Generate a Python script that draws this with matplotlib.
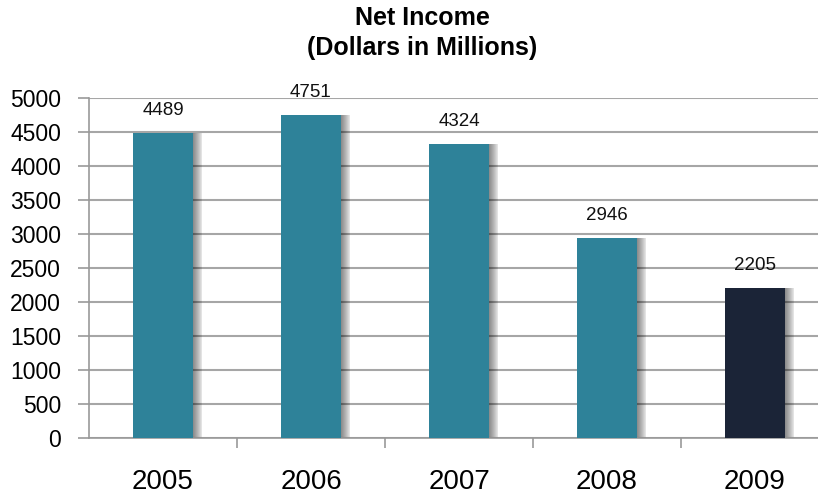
import numpy as np
import matplotlib.pyplot as plt
from matplotlib.ticker import FixedLocator, NullFormatter

years = ['2005', '2006', '2007', '2008', '2009']
net_income = [4489, 4751, 4324, 2946, 2205]
bar_colors = ['#2E8299', '#2E8299', '#2E8299', '#2E8299', '#1B2437']

plt.rcParams['font.family'] = ['Liberation Sans', 'DejaVu Sans']

fig = plt.figure(figsize=(8.18, 4.95), dpi=100)
ax = fig.add_axes([89 / 818, 1 - 438 / 495, 1 - 89 / 818, (438 - 98) / 495])

x = np.arange(len(years))
w = 0.405

# soft shadow on the right side of each bar
for k in range(10):
    off = 0.01 + k * 0.006
    ax.bar(x + off, net_income, width=w, color='black', alpha=0.055,
           zorder=2, linewidth=0)
ax.bar(x, net_income, width=w, color=bar_colors, zorder=3, linewidth=0)

for xi, v in zip(x, net_income):
    ax.annotate(str(v), (xi, v), xytext=(0, 10), textcoords='offset points',
                ha='center', va='bottom', fontsize=13.5, color='#111111')

ax.set_xlim(-0.5, -0.5 + (818 - 89) / 148)
ax.set_ylim(0, 5000)
ax.set_yticks(np.arange(0, 5001, 500))
ax.tick_params(axis='y', labelsize=16.5, length=8, color='#999999', width=1.2, pad=12)

ax.set_xticks(x)
ax.set_xticklabels(years, fontsize=20)
ax.tick_params(axis='x', length=0, pad=22)
ax.xaxis.set_minor_locator(FixedLocator(x[:-1] + 0.5))
ax.xaxis.set_minor_formatter(NullFormatter())
ax.tick_params(axis='x', which='minor', length=7, color='#999999', width=1.2)

ax.grid(axis='y', color='#A6A6A6', linewidth=1.5, zorder=0)
ax.set_axisbelow(True)
for side in ['top', 'right']:
    ax.spines[side].set_visible(False)
ax.spines['left'].set_color('#999999')
ax.spines['bottom'].set_color('#999999')
ax.spines['left'].set_linewidth(1.2)
ax.spines['bottom'].set_linewidth(1.2)

fig.text(422 / 818, 1 - 33 / 495, 'Net Income\n(Dollars in Millions)', ha='center',
         va='center', fontsize=18, fontweight='bold', linespacing=1.3)

fig.savefig('out.png', dpi=100)
